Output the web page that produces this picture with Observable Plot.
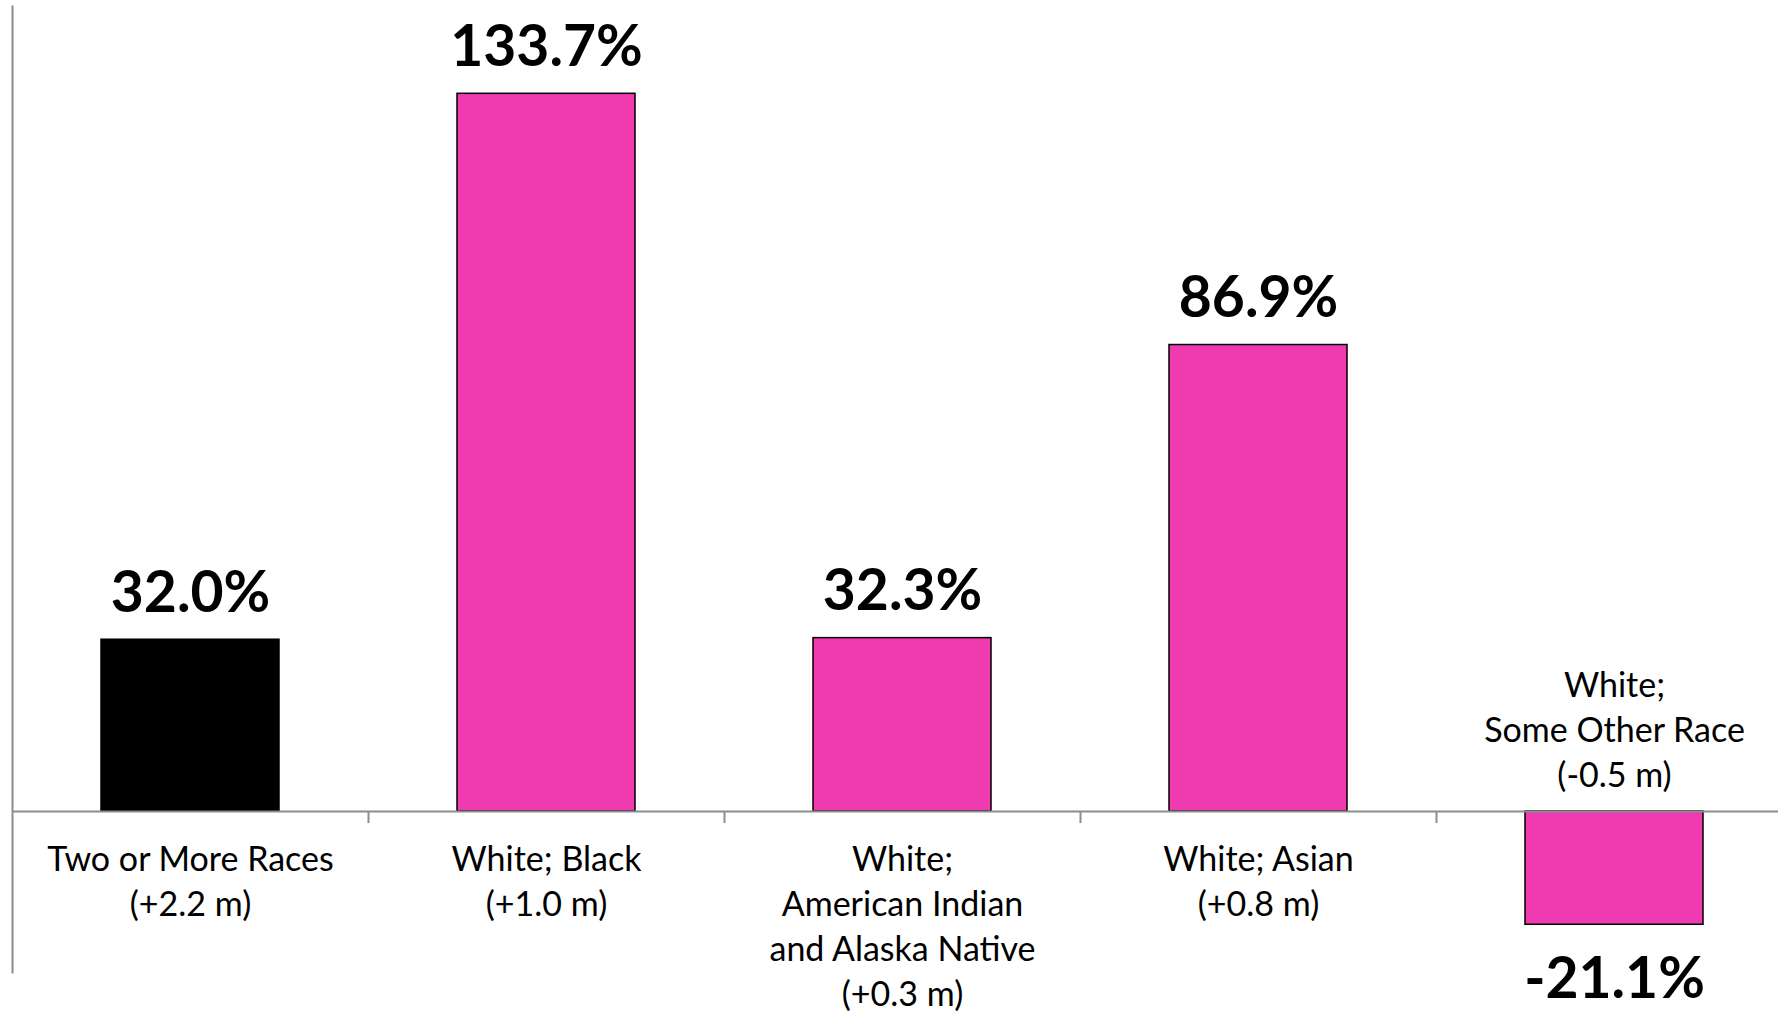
<!DOCTYPE html>
<html>
<head>
<meta charset="utf-8">
<script src="https://cdn.jsdelivr.net/npm/d3@7"></script>
<script src="https://cdn.jsdelivr.net/npm/@observablehq/plot@0.6"></script>
<style>
  html, body { margin: 0; padding: 0; background: #ffffff; overflow: hidden; }
  #chart svg { display: block; }
</style>
</head>
<body>
<div id="chart"></div>
<script>
// Data
const groups = [
  "Two or More Races",
  "White; Black",
  "White;\nAmerican Indian\nand Alaska Native",
  "White; Asian",
  "White;\nSome Other Race"
];
const changes = ["+2.2 m", "+1.0 m", "+0.3 m", "+0.8 m", "-0.5 m"];
const pctChange = [32.0, 133.7, 32.3, 86.9, -21.1];
const isTotal = [true, false, false, false, false];

const data = groups.map((g, i) => ({
  key: g,
  label: `${g}\n(${changes[i]})`,
  value: pctChange[i],
  total: isTotal[i]
}));
const pos = data.filter(d => d.value >= 0);
const neg = data.filter(d => d.value < 0);

const axisGrey = "#8c8c8c";
const pink = "#EF3BAF";

const chart = Plot.plot({
  width: 1778,
  height: 1015,
  marginLeft: 12,
  marginRight: 0,
  marginTop: 6,
  marginBottom: 43,
  style: {background: "#ffffff", fontFamily: "Lato, sans-serif"},
  x: {domain: groups, range: [11.8, 1792.9], paddingInner: 0.5, paddingOuter: 0.25, align: 0.5, axis: null},
  y: {domain: [-38.0, 151.08], range: [1015, 0], axis: null},
  marks: [
    Plot.frame({anchor: "left", stroke: axisGrey, strokeWidth: 2}),
    Plot.barY(data, {
      x: "key", y: "value",
      fill: d => d.total ? "#000000" : pink,
      stroke: "#000000", strokeWidth: 1.5
    }),
    Plot.ruleY([0], {stroke: axisGrey, strokeWidth: 2}),
    Plot.ruleX(groups.slice(1), {x: d => d, y1: 0, y2: -2.24, dx: -178, stroke: axisGrey, strokeWidth: 2}),
    // value labels
    Plot.text(pos, {
      x: "key", y: "value", text: d => `${d.value.toFixed(1)}%`,
      lineAnchor: "bottom", dy: -28, fontSize: 57, fontWeight: "bold", fill: "#000"
    }),
    Plot.text(neg, {
      x: "key", y: "value", text: d => `${d.value.toFixed(1)}%`,
      lineAnchor: "top", dy: 33, fontSize: 57, fontWeight: "bold", fill: "#000"
    }),
    // category labels
    Plot.text(pos, {
      x: "key", y: 0, text: "label",
      lineAnchor: "top", dy: 28, fontSize: 34, lineHeight: 1.3235, fill: "#000"
    }),
    Plot.text(neg, {
      x: "key", y: 0, text: "label",
      lineAnchor: "bottom", dy: -25, fontSize: 34, lineHeight: 1.3235, fill: "#000"
    })
  ]
});
document.getElementById("chart").append(chart);
</script>
</body>
</html>
